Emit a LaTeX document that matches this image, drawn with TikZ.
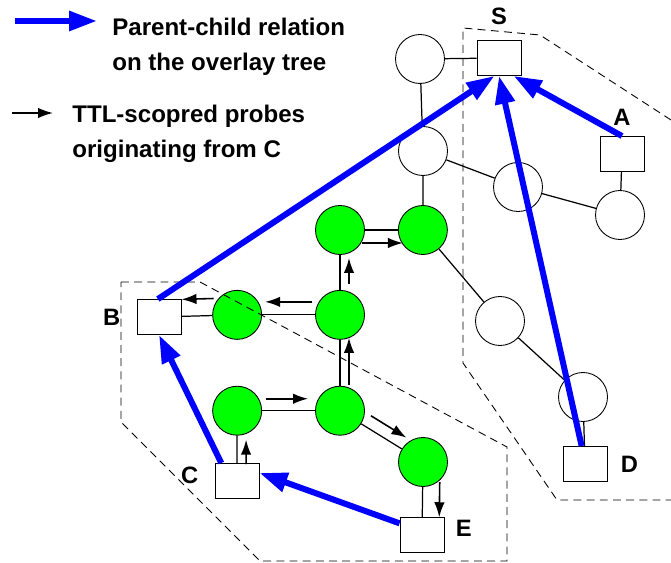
\documentclass[tikz,border=0pt]{standalone}
\usepackage{fontspec}
\setmainfont{Liberation Sans}
\usepackage{xcolor}
\usepackage{tikz}
\usetikzlibrary{arrows.meta,positioning,calc}
\definecolor{probegreen}{RGB}{0,255,0}
\definecolor{treeblue}{RGB}{0,0,255}

\begin{document}
\begin{tikzpicture}[
    x=0.02cm, y=-0.02cm,
    peer/.style={circle, draw, line width=0.5pt, minimum size=0.98cm, inner sep=0pt},
    member/.style={peer, fill=probegreen},
    host/.style={rectangle, draw, line width=0.5pt, fill=white, minimum width=0.88cm, minimum height=0.70cm, inner sep=0pt},
    lbl/.style={inner sep=0pt, font=\fontsize{13.5}{16}\selectfont\bfseries},
    keytext/.style={inner sep=0pt, align=left, font=\fontsize{13.7}{19.9}\selectfont\bfseries},
    overlaylink/.style={line width=0.7pt},
    probelink/.style={line width=0.9pt, -{Latex[length=0.3cm, width=0.21cm]}},
    treelink/.style={line width=0.12cm, treeblue, -{Triangle[length=0.56cm, width=0.38cm]}},
    region/.style={line width=0.5pt, dash pattern=on 4.5pt off 3pt}
]
\useasboundingbox (0,0) rectangle (671,563);

% Legend
\coordinate (k1a) at (15,21);
\coordinate (k1b) at (97,21);
\draw[treelink] (k1a) -- (k1b);
\node[keytext, anchor=west] (key1) at (112,47) {Parent-child relation\\on the overlay tree};
\coordinate (k2a) at (12,113);
\coordinate (k2b) at (53,113);
\draw[probelink] (k2a) -- (k2b);
\node[keytext, anchor=west] (key2) at (72,134) {TTL-scopred probes\\originating from C};

% Overlay peers
\node[peer] (w1) at (420,59) {};
\node[peer] (w2) at (423,151) {};
\node[peer] (w3) at (518,187) {};
\node[peer] (w4) at (620,215) {};
\node[peer] (w5) at (500,321) {};
\node[peer] (w6) at (583,397) {};

% Peers reached by the probes
\node[member] (g1) at (340,230) {};
\node[member, right=0.66cm of g1] (g2) {};
\node[member, below=0.7cm of g1] (g4) {};
\node[member, left=1.06cm of g4] (g3) {};
\node[member, below=0.92cm of g4] (g6) {};
\node[member, left=1.06cm of g6] (g5) {};
\node[member] (g7) at (423,462) {};

% Hosts
\node[host] (s) at (499,58) {};
\node[host] (a) at (622,154) {};
\node[host] (d) at (585,464) {};
\node[host] (b) at (159,317) {};
\node[host] (c) at (237,481) {};
\node[host] (e) at (422,535) {};

% Host labels
\node[lbl, above=0.3cm of s] (slbl) {S};
\node[lbl, above=0.2cm of a] (albl) {A};
\node[lbl, left=0.32cm of b] (blbl) {B};
\node[lbl, left=0.32cm of c, yshift=0.12cm] (clbl) {C};
\node[lbl, right=0.22cm of e, yshift=0.14cm] (elbl) {E};
\node[lbl, right=0.26cm of d] (dlbl) {D};

% Overlay links
\draw[overlaylink] (w1) -- (s);
\draw[overlaylink] (w1) -- (w2);
\draw[overlaylink] (w2) -- (g2);
\draw[overlaylink] (w2) -- (w3);
\draw[overlaylink] (w3) -- (w4);
\draw[overlaylink] (w4) -- (a);
\draw[overlaylink] (g2) -- (w5);
\draw[overlaylink] (w5) -- (w6);
\draw[overlaylink] (w6) -- (d);
\draw[overlaylink] (g1) -- (g2);
\draw[overlaylink] (g4) -- (g1);
\draw[overlaylink] (g4) -- (g3);
\draw[overlaylink] (g3) -- (b);
\draw[overlaylink] (g6) -- (g4);
\draw[overlaylink] (g5) -- (g6);
\draw[overlaylink] (c) -- (g5);
\draw[overlaylink] (g6) -- (g7);
\draw[overlaylink] (g7) -- (e);

% Probes from C
\draw[probelink, shorten <=0.34cm, shorten >=0.58cm] ($(c)!0.18cm!-90:(g5)$) -- ($(g5)!0.18cm!90:(c)$);
\draw[probelink, shorten <=0.58cm, shorten >=0.64cm] ($(g5)!0.24cm!90:(g6)$) -- ($(g6)!0.24cm!-90:(g5)$);
\draw[probelink, shorten <=0.52cm, shorten >=0.46cm] ($(g6)!0.18cm!-90:(g4)$) -- ($(g4)!0.18cm!90:(g6)$);
\draw[probelink, shorten <=0.58cm, shorten >=0.54cm] ($(g6)!0.24cm!90:(g7)$) -- ($(g7)!0.24cm!-90:(g6)$);
\draw[probelink, shorten <=0.40cm, shorten >=0.36cm] ($(g7)!0.34cm!90:(e)$) -- ($(e)!0.34cm!-90:(g7)$);
\draw[probelink, shorten <=0.62cm, shorten >=0.56cm] ($(g4)!0.18cm!-90:(g1)$) -- ($(g1)!0.18cm!90:(g4)$);
\draw[probelink, shorten <=0.56cm, shorten >=0.56cm] ($(g4)!0.26cm!-90:(g3)$) -- ($(g3)!0.26cm!90:(g4)$);
\draw[probelink, shorten <=0.46cm, shorten >=0.46cm] ($(g3)!0.34cm!-90:(b)$) -- ($(b)!0.34cm!90:(g3)$);
\draw[probelink, shorten <=0.44cm, shorten >=0.40cm] ($(g1)!0.26cm!-90:(g2)$) -- ($(g2)!0.26cm!90:(g1)$);

% Regions
\draw[region] (671,120) -- (540,35) -- (463,28) -- (463,363) -- (557,500) -- (671,500);
\draw[region] (121,282) -- (200,282) -- (507,447) -- (507,561) -- (260,561) -- (121,422) -- cycle;

% Overlay tree
\draw[treelink] ($(b.north)!0.05!(b.north west)$) -- ($(s.south)!0.2!(s.south west)$);
\draw[treelink] ($(d.north)!0.15!(d.north west)$) -- (s.south);
\draw[treelink] (a.north) -- ($(s.south)!0.65!(s.south east)$);
\draw[treelink] ($(c.north west)!0.3!(c.north)$) -- (b.south);
\draw[treelink] ($(e.west)!0.65!(e.north west)$) -- ($(c.east)!0.45!(c.north east)$);

\end{tikzpicture}
\end{document}
